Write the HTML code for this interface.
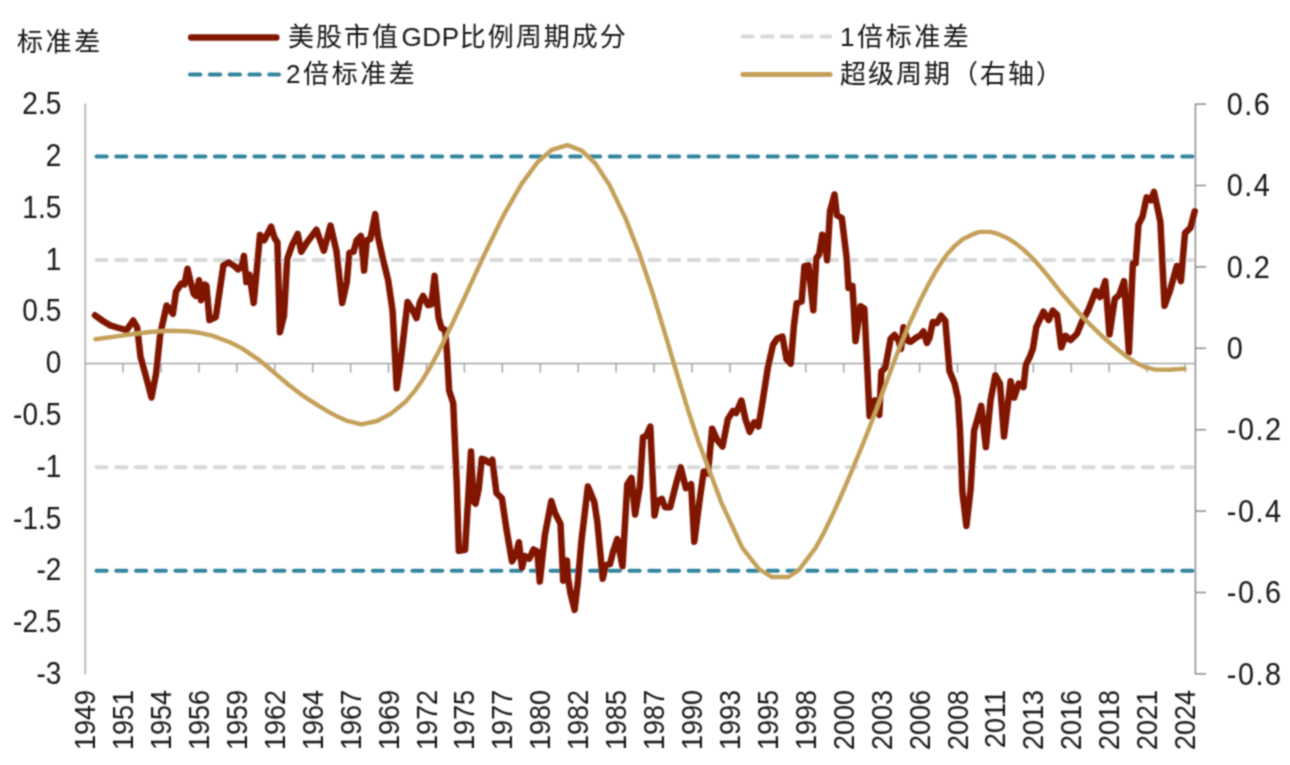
<!DOCTYPE html>
<html><head><meta charset="utf-8"><title>chart</title>
<style>html,body{margin:0;padding:0;background:#fff;width:1290px;height:765px;overflow:hidden}svg{display:block}</style>
</head><body>
<svg width="1290" height="765" viewBox="0 0 1290 765">
<defs><filter id="soft" x="0" y="0" width="1290" height="765" filterUnits="userSpaceOnUse"><feConvolveMatrix order="3" kernelMatrix="1 2 1 2 6 2 1 2 1" divisor="18" edgeMode="duplicate"/></filter></defs>
<rect width="1290" height="765" fill="#fff"/>
<g filter="url(#soft)">
<text x="17" y="51" font-family='"Liberation Sans", "Noto Sans CJK SC", sans-serif' font-size="26" letter-spacing="2.6" fill="#141414">标准差</text>
<line x1="191.2" y1="37.4" x2="276.3" y2="37.4" stroke="#801800" stroke-width="6.5" stroke-linecap="round"/>
<line x1="190" y1="74.6" x2="279" y2="74.6" stroke="#31859c" stroke-width="4" stroke-linecap="round" stroke-dasharray="10.4 9.4"/>
<line x1="742.3" y1="36.6" x2="830.3" y2="36.6" stroke="#d9d9d9" stroke-width="4" stroke-linecap="round" stroke-dasharray="10.4 9.4"/>
<line x1="743" y1="74.6" x2="830" y2="74.6" stroke="#c5a05a" stroke-width="5" stroke-linecap="round"/>
<text x="288" y="46" font-family='"Liberation Sans", "Noto Sans CJK SC", sans-serif' font-size="26" letter-spacing="2" fill="#141414">美股市值<tspan dx="1.5" letter-spacing="0.6">GDP</tspan>比例周期成分</text>
<text x="286" y="83" font-family='"Liberation Sans", "Noto Sans CJK SC", sans-serif' font-size="26" letter-spacing="2.6" fill="#141414">2倍标准差</text>
<text x="840" y="46" font-family='"Liberation Sans", "Noto Sans CJK SC", sans-serif' font-size="26" letter-spacing="2.6" fill="#141414">1倍标准差</text>
<text x="840" y="83" font-family='"Liberation Sans", "Noto Sans CJK SC", sans-serif' font-size="26" letter-spacing="2" fill="#141414">超级周期（右轴）</text>
<line x1="85.2" y1="103.6" x2="85.2" y2="674.2" stroke="#bfbfbf" stroke-width="2"/>
<line x1="1195.4" y1="103.6" x2="1195.4" y2="674.2" stroke="#8c8c8c" stroke-width="1.5"/>
<line x1="1195.4" y1="104.1" x2="1206" y2="104.1" stroke="#8c8c8c" stroke-width="1.5"/>
<line x1="1195.4" y1="185.5" x2="1206" y2="185.5" stroke="#8c8c8c" stroke-width="1.5"/>
<line x1="1195.4" y1="266.9" x2="1206" y2="266.9" stroke="#8c8c8c" stroke-width="1.5"/>
<line x1="1195.4" y1="348.3" x2="1206" y2="348.3" stroke="#8c8c8c" stroke-width="1.5"/>
<line x1="1195.4" y1="429.7" x2="1206" y2="429.7" stroke="#8c8c8c" stroke-width="1.5"/>
<line x1="1195.4" y1="511.1" x2="1206" y2="511.1" stroke="#8c8c8c" stroke-width="1.5"/>
<line x1="1195.4" y1="592.5" x2="1206" y2="592.5" stroke="#8c8c8c" stroke-width="1.5"/>
<line x1="1195.4" y1="673.9" x2="1206" y2="673.9" stroke="#8c8c8c" stroke-width="1.5"/>
<line x1="85.2" y1="363.6" x2="1195.4" y2="363.6" stroke="#a6a6a6" stroke-width="1.5"/>
<line x1="123.0" y1="363.6" x2="123.0" y2="372.6" stroke="#a6a6a6" stroke-width="1.5"/>
<line x1="161.0" y1="363.6" x2="161.0" y2="372.6" stroke="#a6a6a6" stroke-width="1.5"/>
<line x1="198.9" y1="363.6" x2="198.9" y2="372.6" stroke="#a6a6a6" stroke-width="1.5"/>
<line x1="236.8" y1="363.6" x2="236.8" y2="372.6" stroke="#a6a6a6" stroke-width="1.5"/>
<line x1="274.8" y1="363.6" x2="274.8" y2="372.6" stroke="#a6a6a6" stroke-width="1.5"/>
<line x1="312.7" y1="363.6" x2="312.7" y2="372.6" stroke="#a6a6a6" stroke-width="1.5"/>
<line x1="350.6" y1="363.6" x2="350.6" y2="372.6" stroke="#a6a6a6" stroke-width="1.5"/>
<line x1="388.5" y1="363.6" x2="388.5" y2="372.6" stroke="#a6a6a6" stroke-width="1.5"/>
<line x1="426.5" y1="363.6" x2="426.5" y2="372.6" stroke="#a6a6a6" stroke-width="1.5"/>
<line x1="464.4" y1="363.6" x2="464.4" y2="372.6" stroke="#a6a6a6" stroke-width="1.5"/>
<line x1="502.3" y1="363.6" x2="502.3" y2="372.6" stroke="#a6a6a6" stroke-width="1.5"/>
<line x1="540.3" y1="363.6" x2="540.3" y2="372.6" stroke="#a6a6a6" stroke-width="1.5"/>
<line x1="578.2" y1="363.6" x2="578.2" y2="372.6" stroke="#a6a6a6" stroke-width="1.5"/>
<line x1="616.1" y1="363.6" x2="616.1" y2="372.6" stroke="#a6a6a6" stroke-width="1.5"/>
<line x1="654.1" y1="363.6" x2="654.1" y2="372.6" stroke="#a6a6a6" stroke-width="1.5"/>
<line x1="692.0" y1="363.6" x2="692.0" y2="372.6" stroke="#a6a6a6" stroke-width="1.5"/>
<line x1="729.9" y1="363.6" x2="729.9" y2="372.6" stroke="#a6a6a6" stroke-width="1.5"/>
<line x1="767.8" y1="363.6" x2="767.8" y2="372.6" stroke="#a6a6a6" stroke-width="1.5"/>
<line x1="805.8" y1="363.6" x2="805.8" y2="372.6" stroke="#a6a6a6" stroke-width="1.5"/>
<line x1="843.7" y1="363.6" x2="843.7" y2="372.6" stroke="#a6a6a6" stroke-width="1.5"/>
<line x1="881.6" y1="363.6" x2="881.6" y2="372.6" stroke="#a6a6a6" stroke-width="1.5"/>
<line x1="919.6" y1="363.6" x2="919.6" y2="372.6" stroke="#a6a6a6" stroke-width="1.5"/>
<line x1="957.5" y1="363.6" x2="957.5" y2="372.6" stroke="#a6a6a6" stroke-width="1.5"/>
<line x1="995.4" y1="363.6" x2="995.4" y2="372.6" stroke="#a6a6a6" stroke-width="1.5"/>
<line x1="1033.3" y1="363.6" x2="1033.3" y2="372.6" stroke="#a6a6a6" stroke-width="1.5"/>
<line x1="1071.3" y1="363.6" x2="1071.3" y2="372.6" stroke="#a6a6a6" stroke-width="1.5"/>
<line x1="1109.2" y1="363.6" x2="1109.2" y2="372.6" stroke="#a6a6a6" stroke-width="1.5"/>
<line x1="1147.1" y1="363.6" x2="1147.1" y2="372.6" stroke="#a6a6a6" stroke-width="1.5"/>
<line x1="1185.1" y1="363.6" x2="1185.1" y2="372.6" stroke="#a6a6a6" stroke-width="1.5"/>
<line x1="96.5" y1="156.4" x2="1193.5" y2="156.4" stroke="#31859c" stroke-width="4" stroke-linecap="round" stroke-dasharray="10.2 9.54"/>
<line x1="96.5" y1="570.8" x2="1193.5" y2="570.8" stroke="#31859c" stroke-width="4" stroke-linecap="round" stroke-dasharray="10.2 9.54"/>
<line x1="96.5" y1="260.0" x2="1193.5" y2="260.0" stroke="#d9d9d9" stroke-width="4" stroke-linecap="round" stroke-dasharray="10.2 9.54"/>
<line x1="96.5" y1="467.2" x2="1193.5" y2="467.2" stroke="#d9d9d9" stroke-width="4" stroke-linecap="round" stroke-dasharray="10.2 9.54"/>
<polyline points="95.0,315.3 102.9,321.0 110.2,325.4 118.8,328.0 126.6,330.2 133.2,320.5 137.2,327.5 140.5,356.7 145.7,375.5 151.5,397.5 156.1,373.5 160.3,333.7 166.6,305.5 172.9,313.8 176.0,291.8 181.3,283.5 184.4,284.5 187.5,268.8 190.7,282.4 193.8,293.9 195.9,296.0 199.0,280.3 201.1,300.2 204.3,284.5 206.4,285.6 209.5,320.1 215.8,317.0 223.4,265.3 228.6,262.2 234.9,266.4 238.0,269.5 241.2,267.4 243.9,255.9 246.4,282.1 249.5,274.7 253.7,303.0 260.0,235.0 264.2,240.2 271.1,226.6 274.6,238.1 277.4,242.3 279.9,332.3 284.0,315.5 287.2,259.0 292.4,244.4 297.7,233.9 301.2,251.7 307.1,242.3 316.5,229.8 323.8,250.7 330.5,225.6 336.4,250.7 342.2,303.0 346.8,282.1 349.4,252.8 353.6,251.7 356.7,240.2 360.9,236.0 364.1,270.6 366.8,240.2 370.3,239.2 375.2,214.1 378.1,237.1 382.9,259.0 388.1,280.0 392.6,310.9 396.7,388.3 400.9,359.0 407.6,302.0 412.2,309.3 416.6,318.2 419.8,302.6 423.1,296.0 428.1,305.2 431.3,304.3 434.6,275.8 438.6,318.0 441.5,328.1 445.2,330.0 447.0,352.8 449.1,390.4 453.2,403.0 456.7,482.8 458.8,550.8 465.1,549.7 471.0,451.4 473.5,501.6 475.6,503.7 478.7,489.0 481.8,458.7 485.0,459.8 489.2,462.9 492.3,459.8 496.5,493.2 501.9,498.3 506.5,529.4 512.0,561.4 515.6,555.0 518.9,542.2 522.0,567.8 524.8,556.0 529.3,558.7 533.6,549.5 537.2,551.4 539.8,581.6 544.9,534.9 551.3,501.0 555.0,512.9 560.5,523.9 563.2,580.7 566.9,560.5 568.0,578.0 570.5,593.5 574.6,609.9 577.8,582.5 581.5,540.4 587.9,486.4 594.3,502.0 597.4,522.3 602.7,578.8 605.8,565.2 610.0,564.2 613.1,551.6 617.3,539.0 622.5,566.3 627.3,484.2 631.5,477.9 635.1,514.5 639.9,486.3 643.0,437.1 646.2,436.0 650.3,426.6 654.5,515.5 657.7,500.9 661.8,498.8 665.0,507.2 670.2,507.2 676.5,482.1 680.7,467.4 685.9,488.3 691.1,484.2 694.3,541.7 699.5,500.9 703.7,471.6 707.9,473.7 712.1,428.7 717.3,440.2 722.5,446.5 727.8,419.3 733.0,410.9 736.1,413.0 741.4,400.5 745.5,419.3 749.7,431.8 754.2,422.3 758.4,426.5 762.6,401.4 767.8,367.9 773.0,344.9 777.2,338.6 782.4,336.5 786.6,359.5 790.8,363.7 793.9,326.0 796.7,303.3 801.6,301.4 804.5,266.1 808.4,265.1 813.3,310.2 816.3,258.2 819.2,254.3 822.2,234.7 824.7,236.7 827.1,260.2 830.0,211.2 834.5,194.5 836.9,215.1 841.8,218.0 846.7,258.2 848.5,288.0 852.5,286.0 855.5,341.0 860.5,306.2 864.4,308.8 869.6,416.1 874.9,400.4 879.3,414.8 881.4,371.6 885.3,367.7 890.6,338.9 894.5,335.0 898.4,340.2 901.0,349.0 903.5,327.2 907.7,340.8 910.8,341.8 916.0,337.7 920.2,335.6 923.4,331.4 926.9,342.9 929.6,337.7 932.8,322.0 937.0,323.0 941.1,315.7 945.3,320.9 949.5,371.1 954.7,383.7 957.9,398.3 960.0,430.6 962.4,491.8 966.4,525.9 970.6,489.4 974.1,430.6 981.2,405.9 985.9,447.1 990.6,400.0 995.3,375.3 1000.0,383.5 1004.0,436.5 1010.6,381.2 1014.1,397.6 1018.8,383.5 1023.5,387.1 1025.9,364.7 1029.9,356.7 1033.0,348.3 1036.2,327.4 1043.5,311.7 1048.7,320.1 1052.9,310.7 1057.1,314.9 1061.3,347.3 1065.5,335.8 1070.7,340.0 1077.0,333.7 1082.2,321.1 1088.5,309.6 1095.8,290.8 1100.0,297.1 1105.3,281.2 1109.5,334.6 1114.8,298.8 1119.2,294.8 1124.1,281.2 1128.9,352.4 1132.9,263.3 1135.7,263.3 1138.4,224.9 1142.5,216.6 1146.6,197.4 1150.8,200.2 1154.0,191.9 1157.6,208.4 1160.4,222.1 1164.5,305.8 1170.0,290.7 1176.8,266.0 1180.9,281.1 1185.0,233.1 1190.5,227.6 1194.7,211.2" fill="none" stroke="#801800" stroke-width="6.5" stroke-linejoin="round" stroke-linecap="round"/>
<polyline points="95.4,339.2 112.8,336.9 131.4,334.3 150.0,332.0 168.6,330.8 187.2,331.3 199.6,332.8 212.0,335.6 230.0,342.2 242.0,348.4 258.2,359.3 265.3,365.0 277.1,375.1 288.8,385.0 300.6,394.1 318.2,405.7 330.0,412.6 337.5,416.6 345.7,420.3 361.4,424.3 377.0,421.0 390.6,413.9 405.3,402.0 415.0,390.6 422.8,379.4 430.7,366.3 438.5,351.8 442.4,344.1 451.8,324.8 463.5,299.7 472.9,279.3 485.0,253.3 501.1,220.3 504.9,212.9 521.4,184.1 537.9,161.8 551.6,149.8 567.5,145.1 581.8,150.6 595.5,163.7 609.3,184.7 625.7,218.6 639.5,254.0 653.2,294.8 666.9,339.9 674.1,364.3 688.2,410.7 698.4,441.5 721.4,502.6 742.3,547.8 759.0,569.0 771.6,577.0 788.3,577.0 798.8,570.1 815.6,547.9 824.4,531.7 833.8,512.1 841.7,494.5 848.0,479.8 854.2,465.0 860.5,449.8 868.4,430.1 877.0,407.8 885.8,383.9 893.2,363.9 900.0,346.3 907.6,328.0 911.7,318.7 920.7,299.5 928.5,284.2 936.4,270.2 942.6,260.6 947.2,254.3 954.4,246.2 963.0,239.0 972.4,234.4 979.5,231.9 990.3,231.9 997.5,233.7 1007.8,238.3 1015.7,243.4 1023.5,249.6 1031.3,257.0 1039.2,265.5 1047.0,274.9 1060.0,291.2 1067.8,300.3 1075.7,309.2 1083.5,317.7 1091.3,325.7 1099.2,333.4 1107.0,340.5 1118.6,350.3 1127.9,357.4 1137.2,363.5 1146.5,367.7 1155.8,369.6 1169.8,369.7 1184.7,368.6" fill="none" stroke="#c5a05a" stroke-width="4.4" stroke-linejoin="round" stroke-linecap="round"/>
<text transform="translate(61.3,114.2) scale(1,1.11)" text-anchor="end" font-family='"Liberation Sans", Arial, sans-serif' font-size="28" fill="#141414">2.5</text>
<text transform="translate(61.3,166.0) scale(1,1.11)" text-anchor="end" font-family='"Liberation Sans", Arial, sans-serif' font-size="28" fill="#141414">2</text>
<text transform="translate(61.3,217.8) scale(1,1.11)" text-anchor="end" font-family='"Liberation Sans", Arial, sans-serif' font-size="28" fill="#141414">1.5</text>
<text transform="translate(61.3,269.6) scale(1,1.11)" text-anchor="end" font-family='"Liberation Sans", Arial, sans-serif' font-size="28" fill="#141414">1</text>
<text transform="translate(61.3,321.4) scale(1,1.11)" text-anchor="end" font-family='"Liberation Sans", Arial, sans-serif' font-size="28" fill="#141414">0.5</text>
<text transform="translate(61.3,373.2) scale(1,1.11)" text-anchor="end" font-family='"Liberation Sans", Arial, sans-serif' font-size="28" fill="#141414">0</text>
<text transform="translate(61.3,425.0) scale(1,1.11)" text-anchor="end" font-family='"Liberation Sans", Arial, sans-serif' font-size="28" fill="#141414">-0.5</text>
<text transform="translate(61.3,476.8) scale(1,1.11)" text-anchor="end" font-family='"Liberation Sans", Arial, sans-serif' font-size="28" fill="#141414">-1</text>
<text transform="translate(61.3,528.6) scale(1,1.11)" text-anchor="end" font-family='"Liberation Sans", Arial, sans-serif' font-size="28" fill="#141414">-1.5</text>
<text transform="translate(61.3,580.4) scale(1,1.11)" text-anchor="end" font-family='"Liberation Sans", Arial, sans-serif' font-size="28" fill="#141414">-2</text>
<text transform="translate(61.3,632.2) scale(1,1.11)" text-anchor="end" font-family='"Liberation Sans", Arial, sans-serif' font-size="28" fill="#141414">-2.5</text>
<text transform="translate(61.3,684.0) scale(1,1.11)" text-anchor="end" font-family='"Liberation Sans", Arial, sans-serif' font-size="28" fill="#141414">-3</text>
<text transform="translate(1226.8,114.7) scale(1.05,1.16)" font-family='"Liberation Sans", Arial, sans-serif' font-size="27.5" letter-spacing="1.4" fill="#141414">0.6</text>
<text transform="translate(1226.8,196.1) scale(1.05,1.16)" font-family='"Liberation Sans", Arial, sans-serif' font-size="27.5" letter-spacing="1.4" fill="#141414">0.4</text>
<text transform="translate(1226.8,277.5) scale(1.05,1.16)" font-family='"Liberation Sans", Arial, sans-serif' font-size="27.5" letter-spacing="1.4" fill="#141414">0.2</text>
<text transform="translate(1226.8,358.9) scale(1.05,1.16)" font-family='"Liberation Sans", Arial, sans-serif' font-size="27.5" letter-spacing="1.4" fill="#141414">0</text>
<text transform="translate(1226.8,440.3) scale(1.05,1.16)" font-family='"Liberation Sans", Arial, sans-serif' font-size="27.5" letter-spacing="1.4" fill="#141414">-0.2</text>
<text transform="translate(1226.8,521.7) scale(1.05,1.16)" font-family='"Liberation Sans", Arial, sans-serif' font-size="27.5" letter-spacing="1.4" fill="#141414">-0.4</text>
<text transform="translate(1226.8,603.1) scale(1.05,1.16)" font-family='"Liberation Sans", Arial, sans-serif' font-size="27.5" letter-spacing="1.4" fill="#141414">-0.6</text>
<text transform="translate(1226.8,684.5) scale(1.05,1.16)" font-family='"Liberation Sans", Arial, sans-serif' font-size="27.5" letter-spacing="1.4" fill="#141414">-0.8</text>
<text transform="translate(95.1,690) rotate(-90) scale(1,1.11)" text-anchor="end" font-family='"Liberation Sans", Arial, sans-serif' font-size="27" fill="#141414">1949</text>
<text transform="translate(133.0,690) rotate(-90) scale(1,1.11)" text-anchor="end" font-family='"Liberation Sans", Arial, sans-serif' font-size="27" fill="#141414">1951</text>
<text transform="translate(171.0,690) rotate(-90) scale(1,1.11)" text-anchor="end" font-family='"Liberation Sans", Arial, sans-serif' font-size="27" fill="#141414">1954</text>
<text transform="translate(208.9,690) rotate(-90) scale(1,1.11)" text-anchor="end" font-family='"Liberation Sans", Arial, sans-serif' font-size="27" fill="#141414">1956</text>
<text transform="translate(246.8,690) rotate(-90) scale(1,1.11)" text-anchor="end" font-family='"Liberation Sans", Arial, sans-serif' font-size="27" fill="#141414">1959</text>
<text transform="translate(284.8,690) rotate(-90) scale(1,1.11)" text-anchor="end" font-family='"Liberation Sans", Arial, sans-serif' font-size="27" fill="#141414">1962</text>
<text transform="translate(322.7,690) rotate(-90) scale(1,1.11)" text-anchor="end" font-family='"Liberation Sans", Arial, sans-serif' font-size="27" fill="#141414">1964</text>
<text transform="translate(360.6,690) rotate(-90) scale(1,1.11)" text-anchor="end" font-family='"Liberation Sans", Arial, sans-serif' font-size="27" fill="#141414">1967</text>
<text transform="translate(398.5,690) rotate(-90) scale(1,1.11)" text-anchor="end" font-family='"Liberation Sans", Arial, sans-serif' font-size="27" fill="#141414">1969</text>
<text transform="translate(436.5,690) rotate(-90) scale(1,1.11)" text-anchor="end" font-family='"Liberation Sans", Arial, sans-serif' font-size="27" fill="#141414">1972</text>
<text transform="translate(474.4,690) rotate(-90) scale(1,1.11)" text-anchor="end" font-family='"Liberation Sans", Arial, sans-serif' font-size="27" fill="#141414">1975</text>
<text transform="translate(512.3,690) rotate(-90) scale(1,1.11)" text-anchor="end" font-family='"Liberation Sans", Arial, sans-serif' font-size="27" fill="#141414">1977</text>
<text transform="translate(550.3,690) rotate(-90) scale(1,1.11)" text-anchor="end" font-family='"Liberation Sans", Arial, sans-serif' font-size="27" fill="#141414">1980</text>
<text transform="translate(588.2,690) rotate(-90) scale(1,1.11)" text-anchor="end" font-family='"Liberation Sans", Arial, sans-serif' font-size="27" fill="#141414">1982</text>
<text transform="translate(626.1,690) rotate(-90) scale(1,1.11)" text-anchor="end" font-family='"Liberation Sans", Arial, sans-serif' font-size="27" fill="#141414">1985</text>
<text transform="translate(664.1,690) rotate(-90) scale(1,1.11)" text-anchor="end" font-family='"Liberation Sans", Arial, sans-serif' font-size="27" fill="#141414">1987</text>
<text transform="translate(702.0,690) rotate(-90) scale(1,1.11)" text-anchor="end" font-family='"Liberation Sans", Arial, sans-serif' font-size="27" fill="#141414">1990</text>
<text transform="translate(739.9,690) rotate(-90) scale(1,1.11)" text-anchor="end" font-family='"Liberation Sans", Arial, sans-serif' font-size="27" fill="#141414">1993</text>
<text transform="translate(777.8,690) rotate(-90) scale(1,1.11)" text-anchor="end" font-family='"Liberation Sans", Arial, sans-serif' font-size="27" fill="#141414">1995</text>
<text transform="translate(815.8,690) rotate(-90) scale(1,1.11)" text-anchor="end" font-family='"Liberation Sans", Arial, sans-serif' font-size="27" fill="#141414">1998</text>
<text transform="translate(853.7,690) rotate(-90) scale(1,1.11)" text-anchor="end" font-family='"Liberation Sans", Arial, sans-serif' font-size="27" fill="#141414">2000</text>
<text transform="translate(891.6,690) rotate(-90) scale(1,1.11)" text-anchor="end" font-family='"Liberation Sans", Arial, sans-serif' font-size="27" fill="#141414">2003</text>
<text transform="translate(929.6,690) rotate(-90) scale(1,1.11)" text-anchor="end" font-family='"Liberation Sans", Arial, sans-serif' font-size="27" fill="#141414">2006</text>
<text transform="translate(967.5,690) rotate(-90) scale(1,1.11)" text-anchor="end" font-family='"Liberation Sans", Arial, sans-serif' font-size="27" fill="#141414">2008</text>
<text transform="translate(1005.4,690) rotate(-90) scale(1,1.11)" text-anchor="end" font-family='"Liberation Sans", Arial, sans-serif' font-size="27" fill="#141414">2011</text>
<text transform="translate(1043.3,690) rotate(-90) scale(1,1.11)" text-anchor="end" font-family='"Liberation Sans", Arial, sans-serif' font-size="27" fill="#141414">2013</text>
<text transform="translate(1081.3,690) rotate(-90) scale(1,1.11)" text-anchor="end" font-family='"Liberation Sans", Arial, sans-serif' font-size="27" fill="#141414">2016</text>
<text transform="translate(1119.2,690) rotate(-90) scale(1,1.11)" text-anchor="end" font-family='"Liberation Sans", Arial, sans-serif' font-size="27" fill="#141414">2018</text>
<text transform="translate(1157.1,690) rotate(-90) scale(1,1.11)" text-anchor="end" font-family='"Liberation Sans", Arial, sans-serif' font-size="27" fill="#141414">2021</text>
<text transform="translate(1195.1,690) rotate(-90) scale(1,1.11)" text-anchor="end" font-family='"Liberation Sans", Arial, sans-serif' font-size="27" fill="#141414">2024</text>
</g>
</svg>
</body></html>
